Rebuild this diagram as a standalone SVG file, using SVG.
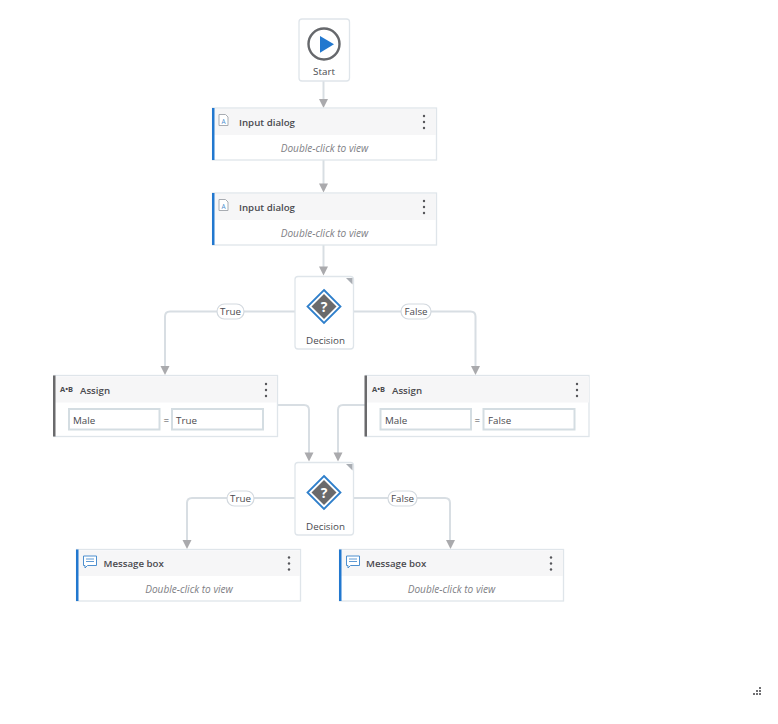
<svg xmlns="http://www.w3.org/2000/svg" width="778" height="724" viewBox="0 0 778 724">
<style>
text{font-family:"Open Sans","Noto Sans","Liberation Sans",sans-serif;fill:#4a4a4f}
.card{fill:#fff;stroke:#dfe5ea;stroke-width:1.3}
.hdr{fill:#f6f6f7}
.title{font-size:9.7px;font-weight:600}
.hint{font-size:10.1px;font-style:italic;fill:#808085;text-anchor:middle}
.lbl{font-size:9.8px;text-anchor:middle}
.val{font-size:9.8px}
.field{fill:#fff;stroke:#d4dde2;stroke-width:2}
.conn{fill:none;stroke:#d8dee3;stroke-width:2}
.ah{fill:#aaaaad;stroke:none}
.pill{fill:#fff;stroke:#d3d9df;stroke-width:1.2}
.blue{fill:#2278cf}
.dark{fill:#6a6a6c}
.dots{fill:#55565a}
</style>
<defs>
<g id="dots"><circle cx="0" cy="-6" r="1.2" class="dots"/><circle cx="0" cy="0" r="1.2" class="dots"/><circle cx="0" cy="6" r="1.2" class="dots"/></g>
<path id="arrow" class="ah" d="M-4.5,-9H4.5L0,0Z"/>
<g id="msgicon"><path d="M-6.500,-6H6.500V3.500H-2.500L-5,6V3.500H-6.500Z" fill="#fff" stroke="#4d8fcf" stroke-width="1"/><path d="M-4,-3H4M-4,-.5H4" stroke="#4d8fcf" stroke-width=".9" fill="none"/></g>
<g id="dlgicon"><path d="M-4.500,-5.500H2L4.500,-3V5.500H-4.500Z" fill="#fff" stroke="#a8acb2" stroke-width="1"/><text x="0" y="3.500" text-anchor="middle" style="font-size:6.500px;fill:#4d8fcf">A</text></g>
<g id="diamond"><path d="M0,-16.500L16.500,0L0,16.500L-16.500,0Z" fill="#fff" stroke="#2f7fcb" stroke-width="1.800"/><path d="M0,-12.500L12.500,0L0,12.500L-12.500,0Z" class="dark"/><text x="0" y="5" text-anchor="middle" style="font-size:14px;font-weight:700;fill:#fff">?</text></g>
</defs>

<g id="connectors">
<path class="conn" d="M323.500,81V100"/>
<path class="conn" d="M323.500,160V184"/>
<path class="conn" d="M323.500,245V267"/>
<path class="conn" d="M295,311.500H170Q165,311.500 165,316.500V366"/>
<path class="conn" d="M353.500,311.500H470.500Q475.500,311.500 475.500,316.500V366"/>
<path class="conn" d="M277.500,405H304Q309,405 309,410V453"/>
<path class="conn" d="M365,405H343Q338,405 338,410V453"/>
<path class="conn" d="M295,498H192Q187,498 187,503V540"/>
<path class="conn" d="M353.500,498H445Q450,498 450,503V540"/>
<use href="#arrow" x="323.500" y="108"/>
<use href="#arrow" x="323.500" y="192.500"/>
<use href="#arrow" x="323.500" y="275.500"/>
<use href="#arrow" x="165" y="375"/>
<use href="#arrow" x="475.500" y="375"/>
<use href="#arrow" x="309" y="461.500"/>
<use href="#arrow" x="338" y="461.500"/>
<use href="#arrow" x="187" y="549"/>
<use href="#arrow" x="450.500" y="549"/>
<g id="label-true-1"><rect class="pill" x="217" y="304" width="27" height="15" rx="7.500"/><text class="lbl" x="230.500" y="315">True</text></g>
<g id="label-false-1"><rect class="pill" x="401" y="304" width="30" height="15" rx="7.500"/><text class="lbl" x="416" y="315">False</text></g>
<g id="label-true-2"><rect class="pill" x="227" y="491" width="27" height="15" rx="7.500"/><text class="lbl" x="240.500" y="502">True</text></g>
<g id="label-false-2"><rect class="pill" x="388" y="491" width="29" height="15" rx="7.500"/><text class="lbl" x="402.500" y="502">False</text></g>
</g>

<g id="start">
<rect class="card" x="299" y="19" width="50.500" height="62" rx="3"/>
<circle cx="324" cy="44" r="15.500" fill="#fff" stroke="#66686c" stroke-width="2.400"/>
<path class="blue" d="M320,36L334,44.300L320,52.700Z"/>
<text class="lbl" x="324" y="74.500">Start</text>
</g>

<g id="input-dialog-1">
<rect class="card" x="212.500" y="108" width="224" height="52"/>
<rect class="hdr" x="214" y="109" width="222" height="26"/>
<rect class="blue" x="212" y="108" width="2.500" height="52"/>
<use href="#dlgicon" x="223.500" y="120"/>
<text class="title" x="239" y="126">Input dialog</text>
<use href="#dots" x="424" y="122"/>
<text class="hint" x="324.500" y="152">Double-click to view</text>
</g>

<g id="input-dialog-2">
<rect class="card" x="212.500" y="193" width="224" height="52"/>
<rect class="hdr" x="214" y="194" width="222" height="26"/>
<rect class="blue" x="212" y="193" width="2.500" height="52"/>
<use href="#dlgicon" x="223.500" y="205"/>
<text class="title" x="239" y="211">Input dialog</text>
<use href="#dots" x="424" y="207"/>
<text class="hint" x="324.500" y="237">Double-click to view</text>
</g>

<g id="decision-1">
<rect class="card" x="295" y="276.500" width="58.500" height="72.500" rx="3"/>
<path d="M346,278H352.500V284.500Z" fill="#a9adb3"/>
<use href="#diamond" x="324" y="306.500"/>
<text class="lbl" x="325.500" y="343.500">Decision</text>
</g>

<g id="assign-1">
<rect class="card" x="54" y="375.500" width="223.500" height="61"/>
<rect class="hdr" x="55" y="376.500" width="222" height="26"/>
<rect class="dark" x="53" y="375.500" width="2.500" height="61"/>
<text x="60" y="392" style="font-size:7.500px;font-weight:700">A•B</text>
<text class="title" x="80" y="393.500">Assign</text>
<use href="#dots" x="266" y="390"/>
<rect class="field" x="69" y="409" width="90.500" height="20.500"/>
<text class="val" x="73" y="423.500">Male</text>
<text class="val" x="163.500" y="424">=</text>
<rect class="field" x="172" y="409" width="91" height="20.500"/>
<text class="val" x="176" y="423.500">True</text>
</g>

<g id="assign-2">
<rect class="card" x="365.500" y="375.500" width="223.500" height="61"/>
<rect class="hdr" x="367" y="376.500" width="222" height="26"/>
<rect class="dark" x="364.500" y="375.500" width="2.500" height="61"/>
<text x="372" y="392" style="font-size:7.500px;font-weight:700">A•B</text>
<text class="title" x="392" y="393.500">Assign</text>
<use href="#dots" x="577" y="390"/>
<rect class="field" x="380.500" y="409" width="90.500" height="20.500"/>
<text class="val" x="385" y="423.500">Male</text>
<text class="val" x="474.500" y="424">=</text>
<rect class="field" x="483.500" y="409" width="91" height="20.500"/>
<text class="val" x="488" y="423.500">False</text>
</g>

<g id="decision-2">
<rect class="card" x="295" y="462.500" width="58.500" height="72.500" rx="3"/>
<path d="M346,464H352.500V470.500Z" fill="#a9adb3"/>
<use href="#diamond" x="324" y="492.500"/>
<text class="lbl" x="325.500" y="529.500">Decision</text>
</g>

<g id="message-box-1">
<rect class="card" x="76.500" y="549.500" width="224" height="51.500"/>
<rect class="hdr" x="78" y="550.500" width="222" height="25.500"/>
<rect class="blue" x="76" y="549.500" width="2.500" height="51.500"/>
<use href="#msgicon" x="90" y="562"/>
<text class="title" x="103.500" y="567">Message box</text>
<use href="#dots" x="289" y="563.500"/>
<text class="hint" x="189" y="593">Double-click to view</text>
</g>

<g id="message-box-2">
<rect class="card" x="339.500" y="549.500" width="224" height="51.500"/>
<rect class="hdr" x="341" y="550.500" width="222" height="25.500"/>
<rect class="blue" x="339" y="549.500" width="2.500" height="51.500"/>
<use href="#msgicon" x="353" y="562"/>
<text class="title" x="366" y="567">Message box</text>
<use href="#dots" x="551" y="563.500"/>
<text class="hint" x="451.500" y="593">Double-click to view</text>
</g>

<g id="resize-grip" fill="#6f6f72">
<rect x="759" y="687" width="2" height="2"/>
<rect x="756" y="690" width="2" height="2"/><rect x="759" y="690" width="2" height="2"/>
<rect x="753" y="693" width="2" height="2"/><rect x="756" y="693" width="2" height="2"/><rect x="759" y="693" width="2" height="2"/>
</g>
</svg>
